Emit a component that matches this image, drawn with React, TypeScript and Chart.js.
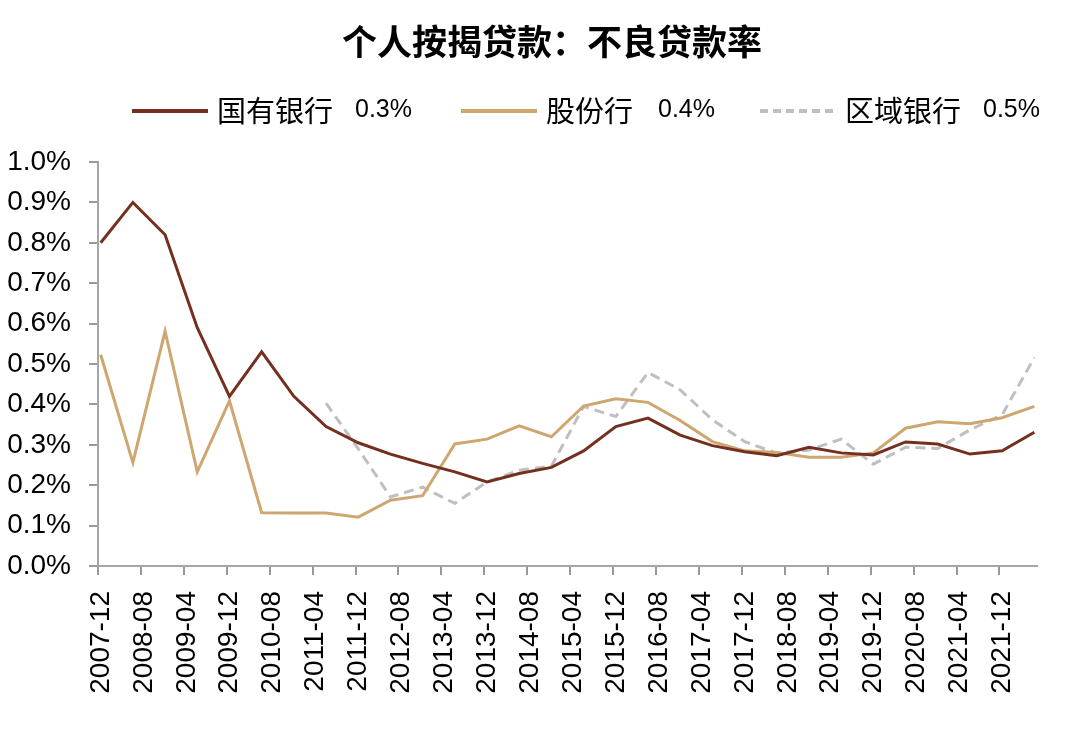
import React, { useEffect, useRef } from 'react';
import { Chart, registerables } from 'chart.js';

Chart.register(...registerables);

const chartTitle = '个人按揭贷款：不良贷款率';
const seriesNames = ['国有银行', '股份行', '区域银行'];
const legendValues = ['0.3%', '0.4%', '0.5%'];
const seriesColors = ['#74301F', '#CFA670', '#BFBFBF'];

const periods = [
  '2007-12', '2008-06', '2008-12', '2009-06', '2009-12', '2010-06', '2010-12',
  '2011-06', '2011-12', '2012-06', '2012-12', '2013-06', '2013-12', '2014-06',
  '2014-12', '2015-06', '2015-12', '2016-06', '2016-12', '2017-06', '2017-12',
  '2018-06', '2018-12', '2019-06', '2019-12', '2020-06', '2020-12', '2021-06',
  '2021-12', '2022-06',
];

const stateOwned = [
  0.80, 0.90, 0.82, 0.59, 0.42, 0.53, 0.42, 0.345, 0.305, 0.277, 0.254, 0.233,
  0.208, 0.229, 0.244, 0.285, 0.345, 0.366, 0.324, 0.298, 0.283, 0.273, 0.294,
  0.280, 0.275, 0.307, 0.302, 0.277, 0.285, 0.331,
];

const jointStock = [
  0.523, 0.256, 0.581, 0.233, 0.409, 0.132, 0.131, 0.131, 0.121, 0.163, 0.174,
  0.302, 0.314, 0.347, 0.320, 0.396, 0.414, 0.405, 0.360, 0.308, 0.285, 0.281,
  0.269, 0.269, 0.280, 0.341, 0.357, 0.352, 0.367, 0.395,
];

const regional = [
  null, null, null, null, null, null, null, 0.403, 0.290, 0.171, 0.195, 0.155,
  0.208, 0.237, 0.247, 0.395, 0.370, 0.479, 0.436, 0.362, 0.308, 0.279, 0.287,
  0.314, 0.252, 0.294, 0.291, 0.337, 0.374, 0.516,
];

const xTickLabels = [
  '2007-12', '2008-08', '2009-04', '2009-12', '2010-08', '2011-04', '2011-12',
  '2012-08', '2013-04', '2013-12', '2014-08', '2015-04', '2015-12', '2016-08',
  '2017-04', '2017-12', '2018-08', '2019-04', '2019-12', '2020-08', '2021-04',
  '2021-12',
];

const yTickValues = [0, 0.1, 0.2, 0.3, 0.4, 0.5, 0.6, 0.7, 0.8, 0.9, 1.0];

// months since start of 2007-12
function monthIndex(s: string): number {
  const [y, m] = s.split('-').map(Number);
  return (y - 2007) * 12 + (m - 12);
}

// data points sit mid-month
function toPoints(values: (number | null)[]) {
  return values.map((v, i) => ({ x: monthIndex(periods[i]) + 0.5, y: v }));
}

const AXIS_MAX = monthIndex('2022-06') + 1;

const NUM_FONT = '"Liberation Sans", Arial, sans-serif';
const CJK_FONT = '"Noto Sans CJK SC", "Noto Sans", sans-serif';

const headerPlugin = {
  id: 'header',
  afterDraw(chart: any) {
    const ctx = chart.ctx as CanvasRenderingContext2D;
    ctx.save();
    // title
    ctx.fillStyle = '#000';
    ctx.font = `bold 35px ${CJK_FONT}`;
    ctx.textAlign = 'center';
    ctx.textBaseline = 'middle';
    ctx.fillText(chartTitle, 552, 42);

    // legend
    const starts = [132, 461, 760];
    const ly = 111;
    seriesNames.forEach((name, i) => {
      const x0 = starts[i];
      ctx.beginPath();
      ctx.strokeStyle = seriesColors[i];
      ctx.lineWidth = 4;
      ctx.setLineDash(i === 2 ? [8, 5] : []);
      ctx.moveTo(x0, ly);
      ctx.lineTo(x0 + 76, ly);
      ctx.stroke();
      ctx.setLineDash([]);
      ctx.fillStyle = '#000';
      ctx.textAlign = 'left';
      ctx.textBaseline = 'middle';
      ctx.font = `29px ${CJK_FONT}`;
      const tx = x0 + 85;
      ctx.fillText(name, tx, ly);
      const w = ctx.measureText(name).width;
      ctx.font = `25px ${NUM_FONT}`;
      ctx.fillText(legendValues[i], tx + w + (i === 1 ? 25 : 22), ly - 1);
    });
    ctx.restore();
  },
};

export default function App() {
  const canvasRef = useRef<HTMLCanvasElement | null>(null);

  useEffect(() => {
    if (!canvasRef.current) return;
    const datasets = [stateOwned, jointStock, regional].map((vals, i) => ({
      label: seriesNames[i],
      data: toPoints(vals),
      borderColor: seriesColors[i],
      backgroundColor: seriesColors[i],
      borderWidth: 3,
      borderDash: i === 2 ? [10, 6] : [],
      pointRadius: 0,
      tension: 0,
      spanGaps: false,
      fill: false,
    }));

    const chart = new Chart(canvasRef.current, {
      type: 'line',
      data: { datasets },
      plugins: [headerPlugin],
      options: {
        animation: false,
        responsive: false,
        maintainAspectRatio: false,
        layout: { padding: { top: 162, left: 0, right: 43, bottom: 0 } },
        plugins: {
          legend: { display: false },
          title: { display: false },
          tooltip: { enabled: false },
        },
        scales: {
          x: {
            type: 'linear',
            min: 0,
            max: AXIS_MAX,
            afterBuildTicks: (scale: any) => {
              scale.ticks = xTickLabels.map((l) => ({ value: monthIndex(l) }));
            },
            afterFit: (scale: any) => {
              scale.height = 172;
            },
            grid: {
              drawOnChartArea: false,
              drawTicks: true,
              tickLength: 9,
              color: '#999999',
              lineWidth: 2,
            },
            border: { display: true, color: '#A6A6A6', width: 2 },
            ticks: {
              autoSkip: false,
              maxRotation: 90,
              minRotation: 90,
              padding: 16,
              labelOffset: 3,
              color: '#000',
              font: { family: NUM_FONT, size: 28 },
              callback: (v: any) => {
                const l = xTickLabels.find((t) => monthIndex(t) === v);
                return l ?? '';
              },
            },
          },
          y: {
            type: 'linear',
            min: 0,
            max: 1,
            afterBuildTicks: (scale: any) => {
              scale.ticks = yTickValues.map((v) => ({ value: v }));
            },
            afterFit: (scale: any) => {
              scale.width = 98;
            },
            grid: {
              drawOnChartArea: false,
              drawTicks: true,
              tickLength: 9,
              color: '#999999',
              lineWidth: 2,
            },
            border: { display: true, color: '#A6A6A6', width: 2 },
            ticks: {
              padding: 18,
              color: '#000',
              font: { family: NUM_FONT, size: 28 },
              callback: (v: any) => `${Number(v).toFixed(1)}%`,
            },
          },
        },
      },
    });
    return () => chart.destroy();
  }, []);

  return (
    <div style={{ position: 'absolute', left: 0, top: 0, width: 1080, height: 738, background: '#fff' }}>
      <canvas ref={canvasRef} width={1080} height={738} style={{ display: 'block' }} />
    </div>
  );
}
